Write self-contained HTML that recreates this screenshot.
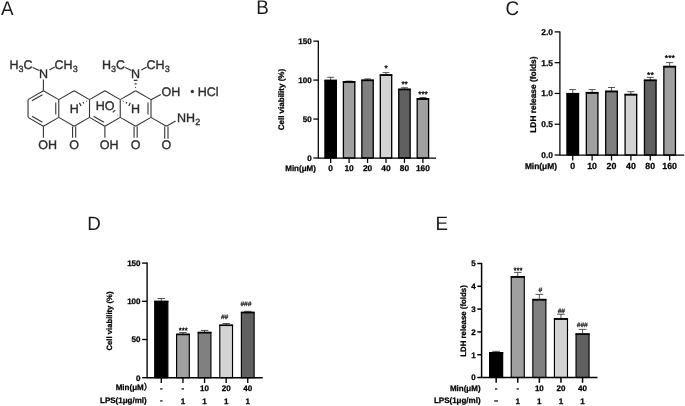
<!DOCTYPE html>
<html><head><meta charset="utf-8"><title>Figure</title>
<style>html,body{margin:0;padding:0;background:#fff;}svg{display:block;}</style>
</head><body>
<svg width="685" height="406" viewBox="0 0 685 406">
<rect width="685" height="406" fill="#fff"/>
<g id="chem" fill="none">
<line x1="43.40" y1="90.78" x2="58.77" y2="99.64" stroke="#333" stroke-width="1.1" stroke-linecap="butt"/>
<line x1="58.77" y1="99.64" x2="58.77" y2="117.36" stroke="#333" stroke-width="1.1" stroke-linecap="butt"/>
<line x1="58.77" y1="117.36" x2="43.40" y2="126.22" stroke="#333" stroke-width="1.1" stroke-linecap="butt"/>
<line x1="43.40" y1="126.22" x2="28.03" y2="117.36" stroke="#333" stroke-width="1.1" stroke-linecap="butt"/>
<line x1="28.03" y1="117.36" x2="28.03" y2="99.64" stroke="#333" stroke-width="1.1" stroke-linecap="butt"/>
<line x1="28.03" y1="99.64" x2="43.40" y2="90.78" stroke="#333" stroke-width="1.1" stroke-linecap="butt"/>
<line x1="74.14" y1="90.78" x2="89.51" y2="99.64" stroke="#333" stroke-width="1.1" stroke-linecap="butt"/>
<line x1="89.51" y1="99.64" x2="89.51" y2="117.36" stroke="#333" stroke-width="1.1" stroke-linecap="butt"/>
<line x1="89.51" y1="117.36" x2="74.14" y2="126.22" stroke="#333" stroke-width="1.1" stroke-linecap="butt"/>
<line x1="74.14" y1="126.22" x2="58.77" y2="117.36" stroke="#333" stroke-width="1.1" stroke-linecap="butt"/>
<line x1="58.77" y1="99.64" x2="74.14" y2="90.78" stroke="#333" stroke-width="1.1" stroke-linecap="butt"/>
<line x1="104.88" y1="90.78" x2="120.25" y2="99.64" stroke="#333" stroke-width="1.1" stroke-linecap="butt"/>
<line x1="120.25" y1="99.64" x2="120.25" y2="117.36" stroke="#333" stroke-width="1.1" stroke-linecap="butt"/>
<line x1="120.25" y1="117.36" x2="104.88" y2="126.22" stroke="#333" stroke-width="1.1" stroke-linecap="butt"/>
<line x1="104.88" y1="126.22" x2="89.51" y2="117.36" stroke="#333" stroke-width="1.1" stroke-linecap="butt"/>
<line x1="89.51" y1="99.64" x2="104.88" y2="90.78" stroke="#333" stroke-width="1.1" stroke-linecap="butt"/>
<line x1="135.62" y1="90.78" x2="150.99" y2="99.64" stroke="#333" stroke-width="1.1" stroke-linecap="butt"/>
<line x1="150.99" y1="99.64" x2="150.99" y2="117.36" stroke="#333" stroke-width="1.1" stroke-linecap="butt"/>
<line x1="150.99" y1="117.36" x2="135.62" y2="126.22" stroke="#333" stroke-width="1.1" stroke-linecap="butt"/>
<line x1="135.62" y1="126.22" x2="120.25" y2="117.36" stroke="#333" stroke-width="1.1" stroke-linecap="butt"/>
<line x1="120.25" y1="99.64" x2="135.62" y2="90.78" stroke="#333" stroke-width="1.1" stroke-linecap="butt"/>
<line x1="31.99" y1="100.82" x2="42.44" y2="94.80" stroke="#333" stroke-width="1.1" stroke-linecap="butt"/>
<line x1="31.99" y1="116.18" x2="42.44" y2="122.20" stroke="#333" stroke-width="1.1" stroke-linecap="butt"/>
<line x1="55.77" y1="102.48" x2="55.77" y2="114.52" stroke="#333" stroke-width="1.1" stroke-linecap="butt"/>
<line x1="93.47" y1="116.18" x2="103.92" y2="122.20" stroke="#333" stroke-width="1.1" stroke-linecap="butt"/>
<line x1="147.99" y1="102.48" x2="147.99" y2="114.52" stroke="#333" stroke-width="1.1" stroke-linecap="butt"/>
<line x1="43.40" y1="90.78" x2="43.40" y2="79.60" stroke="#333" stroke-width="1.1" stroke-linecap="butt"/>
<line x1="32.60" y1="67.50" x2="39.40" y2="70.40" stroke="#333" stroke-width="1.1" stroke-linecap="butt"/>
<line x1="49.30" y1="70.00" x2="54.90" y2="67.10" stroke="#333" stroke-width="1.1" stroke-linecap="butt"/>
<line x1="135.17" y1="87.48" x2="136.07" y2="87.48" stroke="#2e2e2e" stroke-width="1.2" stroke-linecap="butt"/>
<line x1="134.57" y1="83.88" x2="136.67" y2="83.88" stroke="#2e2e2e" stroke-width="1.2" stroke-linecap="butt"/>
<line x1="133.77" y1="80.33" x2="137.47" y2="80.33" stroke="#2e2e2e" stroke-width="1.2" stroke-linecap="butt"/>
<line x1="125.20" y1="67.50" x2="131.50" y2="70.40" stroke="#333" stroke-width="1.1" stroke-linecap="butt"/>
<line x1="141.30" y1="70.00" x2="146.90" y2="67.10" stroke="#333" stroke-width="1.1" stroke-linecap="butt"/>
<line x1="43.40" y1="126.22" x2="43.40" y2="137.70" stroke="#333" stroke-width="1.1" stroke-linecap="butt"/>
<line x1="72.59" y1="126.42" x2="72.59" y2="137.70" stroke="#333" stroke-width="1.1" stroke-linecap="butt"/>
<line x1="75.69" y1="126.42" x2="75.69" y2="137.70" stroke="#333" stroke-width="1.1" stroke-linecap="butt"/>
<line x1="104.88" y1="126.22" x2="104.88" y2="137.70" stroke="#333" stroke-width="1.1" stroke-linecap="butt"/>
<line x1="134.07" y1="126.42" x2="134.07" y2="137.70" stroke="#333" stroke-width="1.1" stroke-linecap="butt"/>
<line x1="137.17" y1="126.42" x2="137.17" y2="137.70" stroke="#333" stroke-width="1.1" stroke-linecap="butt"/>
<line x1="150.99" y1="99.64" x2="160.80" y2="94.40" stroke="#333" stroke-width="1.1" stroke-linecap="butt"/>
<line x1="150.99" y1="117.36" x2="166.36" y2="126.22" stroke="#333" stroke-width="1.1" stroke-linecap="butt"/>
<line x1="166.36" y1="126.22" x2="175.60" y2="121.00" stroke="#333" stroke-width="1.1" stroke-linecap="butt"/>
<line x1="164.71" y1="126.42" x2="164.71" y2="138.70" stroke="#333" stroke-width="1.1" stroke-linecap="butt"/>
<line x1="168.01" y1="126.42" x2="168.01" y2="138.70" stroke="#333" stroke-width="1.1" stroke-linecap="butt"/>
<line x1="86.74" y1="101.46" x2="86.42" y2="100.84" stroke="#2e2e2e" stroke-width="1.2" stroke-linecap="butt"/>
<line x1="83.79" y1="103.60" x2="82.97" y2="102.00" stroke="#2e2e2e" stroke-width="1.2" stroke-linecap="butt"/>
<line x1="81.02" y1="105.99" x2="79.42" y2="102.88" stroke="#2e2e2e" stroke-width="1.2" stroke-linecap="butt"/>
<line x1="123.35" y1="100.81" x2="123.04" y2="101.44" stroke="#2e2e2e" stroke-width="1.2" stroke-linecap="butt"/>
<line x1="126.82" y1="101.94" x2="126.01" y2="103.55" stroke="#2e2e2e" stroke-width="1.2" stroke-linecap="butt"/>
<line x1="130.37" y1="102.78" x2="128.80" y2="105.90" stroke="#2e2e2e" stroke-width="1.2" stroke-linecap="butt"/>
<line x1="117.50" y1="115.31" x2="118.12" y2="114.67" stroke="#888" stroke-width="1.2" stroke-linecap="butt"/>
<line x1="112.89" y1="112.45" x2="115.12" y2="110.15" stroke="#2e2e2e" stroke-width="1.2" stroke-linecap="butt"/>
</g>
<g id="chemtext" font-family="'Liberation Sans', sans-serif" stroke="#2b2b2b" stroke-width="0.35" text-rendering="geometricPrecision">
<text x="9.50" y="69.05" font-size="12.5" fill="#2b2b2b" text-anchor="start" >H<tspan font-size="9.0" dy="2.7">3</tspan><tspan dy="-2.7">C</tspan></text>
<text x="54.60" y="69.05" font-size="12.5" fill="#2b2b2b" text-anchor="start" >CH<tspan font-size="9.0" dy="2.7">3</tspan></text>
<text x="101.90" y="69.05" font-size="12.5" fill="#2b2b2b" text-anchor="start" >H<tspan font-size="9.0" dy="2.7">3</tspan><tspan dy="-2.7">C</tspan></text>
<text x="146.60" y="69.05" font-size="12.5" fill="#2b2b2b" text-anchor="start" >CH<tspan font-size="9.0" dy="2.7">3</tspan></text>
<text x="43.40" y="78.00" font-size="12.5" fill="#2b2b2b" text-anchor="middle" >N</text>
<text x="135.62" y="78.00" font-size="12.5" fill="#2b2b2b" text-anchor="middle" >N</text>
<text x="38.30" y="148.70" font-size="12.5" fill="#2b2b2b" text-anchor="start" >OH</text>
<text x="74.14" y="148.70" font-size="12.5" fill="#2b2b2b" text-anchor="middle" >O</text>
<text x="99.80" y="148.70" font-size="12.5" fill="#2b2b2b" text-anchor="start" >OH</text>
<text x="135.62" y="148.70" font-size="12.5" fill="#2b2b2b" text-anchor="middle" >O</text>
<text x="166.36" y="148.90" font-size="12.5" fill="#2b2b2b" text-anchor="middle" >O</text>
<text x="161.60" y="95.60" font-size="12.5" fill="#2b2b2b" text-anchor="start" >OH</text>
<text x="197.70" y="95.60" font-size="12.5" fill="#2b2b2b" text-anchor="start" >HCl</text>
<circle cx="192.3" cy="91.4" r="1.5" fill="#2b2b2b"/>
<text x="177.10" y="122.20" font-size="12.5" fill="#2b2b2b" text-anchor="start" >NH<tspan font-size="9.0" dy="2.7">2</tspan></text>
<text x="69.80" y="113.30" font-size="12.5" fill="#2b2b2b" text-anchor="start" >H</text>
<text x="131.10" y="113.30" font-size="12.5" fill="#2b2b2b" text-anchor="start" >H</text>
<text x="95.80" y="110.30" font-size="12.5" fill="#2b2b2b" text-anchor="start" >HO</text>
</g>
<g font-family="'Liberation Sans', sans-serif" font-size="18.8" fill="#1a1a1a" text-rendering="geometricPrecision">
<text transform="translate(1.0,14.6) scale(1,1.055)">A</text>
<text transform="translate(256.3,14.45) scale(1,1.055)">B</text>
<text transform="translate(505.5,14.6) scale(1,1.055)">C</text>
<text transform="translate(87.3,230.0) scale(1,1.03)">D</text>
<text transform="translate(435.5,230.35) scale(1,1.035)">E</text>
</g>
<g id="pB" font-family="'Liberation Sans', sans-serif" font-weight="bold" font-size="8.0" fill="#000" stroke="#000" stroke-width="0.25" text-rendering="geometricPrecision">
<path d="M330.65 80.10V77.30M327.22 77.30H334.08" stroke="#2a2a2a" stroke-width="0.8" fill="none"/>
<rect x="324.95" y="80.75" width="11.40" height="77.25" fill="#000" stroke="#000" stroke-width="1.3"/>
<line x1="324.30" y1="80.40" x2="337.00" y2="80.40" stroke="#000" stroke-width="1.6"/>
<path d="M349.10 81.50V81.11M345.67 81.11H352.53" stroke="#2a2a2a" stroke-width="0.8" fill="none"/>
<rect x="343.40" y="82.15" width="11.40" height="75.85" fill="#a0a0a0" stroke="#000" stroke-width="1.3"/>
<line x1="342.75" y1="81.80" x2="355.45" y2="81.80" stroke="#000" stroke-width="1.6"/>
<path d="M367.55 79.87V78.93M364.12 78.93H370.98" stroke="#2a2a2a" stroke-width="0.8" fill="none"/>
<rect x="361.85" y="80.52" width="11.40" height="77.48" fill="#808080" stroke="#000" stroke-width="1.3"/>
<line x1="361.20" y1="80.17" x2="373.90" y2="80.17" stroke="#000" stroke-width="1.6"/>
<path d="M386.00 74.65V72.62M382.57 72.62H389.43" stroke="#2a2a2a" stroke-width="0.8" fill="none"/>
<rect x="380.30" y="75.30" width="11.40" height="82.70" fill="#d3d3d3" stroke="#000" stroke-width="1.3"/>
<line x1="379.65" y1="74.95" x2="392.35" y2="74.95" stroke="#000" stroke-width="1.6"/>
<text x="386.10" y="71.32" text-anchor="middle" font-size="8.24" font-weight="normal" stroke="#000" stroke-width="0.3" fill="#000">*</text>
<path d="M404.45 88.98V87.73M401.02 87.73H407.88" stroke="#2a2a2a" stroke-width="0.8" fill="none"/>
<rect x="398.75" y="89.63" width="11.40" height="68.37" fill="#606060" stroke="#000" stroke-width="1.3"/>
<line x1="398.10" y1="89.28" x2="410.80" y2="89.28" stroke="#000" stroke-width="1.6"/>
<text x="404.60" y="87.22" text-anchor="middle" font-size="8.24" font-weight="normal" stroke="#000" stroke-width="0.3" fill="#000">**</text>
<path d="M422.90 98.56V97.47M419.47 97.47H426.33" stroke="#2a2a2a" stroke-width="0.8" fill="none"/>
<rect x="417.20" y="99.21" width="11.40" height="58.79" fill="#a0a0a0" stroke="#000" stroke-width="1.3"/>
<line x1="416.55" y1="98.86" x2="429.25" y2="98.86" stroke="#000" stroke-width="1.6"/>
<text x="423.00" y="97.12" text-anchor="middle" font-size="8.24" font-weight="normal" stroke="#000" stroke-width="0.3" fill="#000">***</text>
<path d="M318.30 40.65V158.50M317.80 158.00H436.00" stroke="#000" stroke-width="1.25" fill="none"/>
<line x1="313.30" y1="158.00" x2="318.30" y2="158.00" stroke="#000" stroke-width="1.25"/>
<text x="311.70" y="160.88" text-anchor="end">0</text>
<line x1="313.30" y1="119.05" x2="318.30" y2="119.05" stroke="#000" stroke-width="1.25"/>
<text x="311.70" y="121.93" text-anchor="end">50</text>
<line x1="313.30" y1="80.10" x2="318.30" y2="80.10" stroke="#000" stroke-width="1.25"/>
<text x="311.70" y="82.98" text-anchor="end">100</text>
<line x1="313.30" y1="41.15" x2="318.30" y2="41.15" stroke="#000" stroke-width="1.25"/>
<text x="311.70" y="44.03" text-anchor="end">150</text>
<line x1="330.65" y1="158.00" x2="330.65" y2="162.90" stroke="#000" stroke-width="1.25"/>
<text x="330.65" y="171.40" text-anchor="middle" font-size="8.35">0</text>
<line x1="349.10" y1="158.00" x2="349.10" y2="162.90" stroke="#000" stroke-width="1.25"/>
<text x="349.10" y="171.40" text-anchor="middle" font-size="8.35">10</text>
<line x1="367.55" y1="158.00" x2="367.55" y2="162.90" stroke="#000" stroke-width="1.25"/>
<text x="367.55" y="171.40" text-anchor="middle" font-size="8.35">20</text>
<line x1="386.00" y1="158.00" x2="386.00" y2="162.90" stroke="#000" stroke-width="1.25"/>
<text x="386.00" y="171.40" text-anchor="middle" font-size="8.35">40</text>
<line x1="404.45" y1="158.00" x2="404.45" y2="162.90" stroke="#000" stroke-width="1.25"/>
<text x="404.45" y="171.40" text-anchor="middle" font-size="8.35">80</text>
<line x1="422.90" y1="158.00" x2="422.90" y2="162.90" stroke="#000" stroke-width="1.25"/>
<text x="422.90" y="171.40" text-anchor="middle" font-size="8.35">160</text>
<text x="315.90" y="171.20" text-anchor="end">Min(μM)</text>
<text transform="translate(283.50,99.60) rotate(-90)" text-anchor="middle">Cell viability (%)</text>
</g>
<g id="pC" font-family="'Liberation Sans', sans-serif" font-weight="bold" font-size="8.4" fill="#000" stroke="#000" stroke-width="0.25" text-rendering="geometricPrecision">
<path d="M572.75 93.40V89.60M569.27 89.60H576.23" stroke="#2a2a2a" stroke-width="0.8" fill="none"/>
<rect x="566.95" y="94.05" width="11.60" height="60.95" fill="#000" stroke="#000" stroke-width="1.3"/>
<line x1="566.30" y1="93.70" x2="579.20" y2="93.70" stroke="#000" stroke-width="1.6"/>
<path d="M592.13 92.40V89.60M588.65 89.60H595.61" stroke="#2a2a2a" stroke-width="0.8" fill="none"/>
<rect x="586.33" y="93.05" width="11.60" height="61.95" fill="#a0a0a0" stroke="#000" stroke-width="1.3"/>
<line x1="585.68" y1="92.70" x2="598.58" y2="92.70" stroke="#000" stroke-width="1.6"/>
<path d="M611.51 91.00V87.50M608.03 87.50H614.99" stroke="#2a2a2a" stroke-width="0.8" fill="none"/>
<rect x="605.71" y="91.65" width="11.60" height="63.35" fill="#808080" stroke="#000" stroke-width="1.3"/>
<line x1="605.06" y1="91.30" x2="617.96" y2="91.30" stroke="#000" stroke-width="1.6"/>
<path d="M630.89 94.20V91.70M627.41 91.70H634.37" stroke="#2a2a2a" stroke-width="0.8" fill="none"/>
<rect x="625.09" y="94.85" width="11.60" height="60.15" fill="#d3d3d3" stroke="#000" stroke-width="1.3"/>
<line x1="624.44" y1="94.50" x2="637.34" y2="94.50" stroke="#000" stroke-width="1.6"/>
<path d="M650.27 79.90V77.40M646.79 77.40H653.75" stroke="#2a2a2a" stroke-width="0.8" fill="none"/>
<rect x="644.47" y="80.55" width="11.60" height="74.45" fill="#606060" stroke="#000" stroke-width="1.3"/>
<line x1="643.82" y1="80.20" x2="656.72" y2="80.20" stroke="#000" stroke-width="1.6"/>
<text x="650.40" y="77.63" text-anchor="middle" font-size="8.65" font-weight="normal" stroke="#000" stroke-width="0.3" fill="#000">**</text>
<path d="M669.65 66.20V62.60M666.17 62.60H673.13" stroke="#2a2a2a" stroke-width="0.8" fill="none"/>
<rect x="663.85" y="66.85" width="11.60" height="88.15" fill="#a0a0a0" stroke="#000" stroke-width="1.3"/>
<line x1="663.20" y1="66.50" x2="676.10" y2="66.50" stroke="#000" stroke-width="1.6"/>
<text x="669.90" y="61.13" text-anchor="middle" font-size="8.65" font-weight="normal" stroke="#000" stroke-width="0.3" fill="#000">***</text>
<path d="M559.90 31.40V155.50M559.40 155.00H684.20" stroke="#000" stroke-width="1.25" fill="none"/>
<line x1="554.60" y1="155.00" x2="559.90" y2="155.00" stroke="#000" stroke-width="1.25"/>
<text x="553.00" y="158.02" text-anchor="end">0.0</text>
<line x1="554.60" y1="124.22" x2="559.90" y2="124.22" stroke="#000" stroke-width="1.25"/>
<text x="553.00" y="127.25" text-anchor="end">0.5</text>
<line x1="554.60" y1="93.45" x2="559.90" y2="93.45" stroke="#000" stroke-width="1.25"/>
<text x="553.00" y="96.47" text-anchor="end">1.0</text>
<line x1="554.60" y1="62.68" x2="559.90" y2="62.68" stroke="#000" stroke-width="1.25"/>
<text x="553.00" y="65.70" text-anchor="end">1.5</text>
<line x1="554.60" y1="31.90" x2="559.90" y2="31.90" stroke="#000" stroke-width="1.25"/>
<text x="553.00" y="34.92" text-anchor="end">2.0</text>
<line x1="572.75" y1="155.00" x2="572.75" y2="160.50" stroke="#000" stroke-width="1.25"/>
<text x="572.75" y="169.30" text-anchor="middle" font-size="8.8">0</text>
<line x1="592.13" y1="155.00" x2="592.13" y2="160.50" stroke="#000" stroke-width="1.25"/>
<text x="592.13" y="169.30" text-anchor="middle" font-size="8.8">10</text>
<line x1="611.51" y1="155.00" x2="611.51" y2="160.50" stroke="#000" stroke-width="1.25"/>
<text x="611.51" y="169.30" text-anchor="middle" font-size="8.8">20</text>
<line x1="630.89" y1="155.00" x2="630.89" y2="160.50" stroke="#000" stroke-width="1.25"/>
<text x="630.89" y="169.30" text-anchor="middle" font-size="8.8">40</text>
<line x1="650.27" y1="155.00" x2="650.27" y2="160.50" stroke="#000" stroke-width="1.25"/>
<text x="650.27" y="169.30" text-anchor="middle" font-size="8.8">80</text>
<line x1="669.65" y1="155.00" x2="669.65" y2="160.50" stroke="#000" stroke-width="1.25"/>
<text x="669.65" y="169.30" text-anchor="middle" font-size="8.8">160</text>
<text x="557.00" y="169.10" text-anchor="end">Min(μM)</text>
<text transform="translate(535.80,94.60) rotate(-90)" text-anchor="middle">LDH release (folds)</text>
</g>
<g id="pD" font-family="'Liberation Sans', sans-serif" font-weight="bold" font-size="8.0" fill="#000" stroke="#000" stroke-width="0.25" text-rendering="geometricPrecision">
<path d="M161.30 301.10V298.50M157.44 298.50H165.16" stroke="#2a2a2a" stroke-width="0.8" fill="none"/>
<rect x="154.72" y="301.68" width="13.15" height="76.02" fill="#000" stroke="#000" stroke-width="1.15"/>
<line x1="154.15" y1="301.40" x2="168.45" y2="301.40" stroke="#000" stroke-width="1.6"/>
<path d="M182.95 334.00V332.50M179.20 332.50H186.70" stroke="#2a2a2a" stroke-width="0.8" fill="none"/>
<rect x="176.57" y="334.57" width="12.75" height="43.12" fill="#a0a0a0" stroke="#000" stroke-width="1.15"/>
<line x1="176.00" y1="334.30" x2="189.90" y2="334.30" stroke="#000" stroke-width="1.6"/>
<text x="183.20" y="332.54" text-anchor="middle" font-size="7.68" font-weight="normal" stroke="#000" stroke-width="0.3" fill="#000">***</text>
<path d="M204.55 332.20V330.40M200.80 330.40H208.30" stroke="#2a2a2a" stroke-width="0.8" fill="none"/>
<rect x="198.18" y="332.77" width="12.75" height="44.92" fill="#808080" stroke="#000" stroke-width="1.15"/>
<line x1="197.60" y1="332.50" x2="211.50" y2="332.50" stroke="#000" stroke-width="1.6"/>
<path d="M226.15 324.90V323.50M222.40 323.50H229.90" stroke="#2a2a2a" stroke-width="0.8" fill="none"/>
<rect x="219.78" y="325.47" width="12.75" height="52.23" fill="#d3d3d3" stroke="#000" stroke-width="1.15"/>
<line x1="219.20" y1="325.20" x2="233.10" y2="325.20" stroke="#000" stroke-width="1.6"/>
<text x="224.60" y="319.30" text-anchor="middle" font-size="6.40" font-weight="normal" font-style="italic" fill="#333" stroke="#333" stroke-width="0.3">##</text>
<path d="M247.75 312.10V311.30M244.00 311.30H251.50" stroke="#2a2a2a" stroke-width="0.8" fill="none"/>
<rect x="241.38" y="312.68" width="12.75" height="65.02" fill="#606060" stroke="#000" stroke-width="1.15"/>
<line x1="240.80" y1="312.40" x2="254.70" y2="312.40" stroke="#000" stroke-width="1.6"/>
<text x="245.90" y="306.30" text-anchor="middle" font-size="6.40" font-weight="normal" font-style="italic" fill="#333" stroke="#333" stroke-width="0.3">###</text>
<path d="M147.10 262.60V378.20M146.60 377.70H262.80" stroke="#000" stroke-width="1.35" fill="none"/>
<line x1="142.10" y1="377.70" x2="147.10" y2="377.70" stroke="#000" stroke-width="1.35"/>
<text x="140.50" y="380.58" text-anchor="end">0</text>
<line x1="142.10" y1="339.50" x2="147.10" y2="339.50" stroke="#000" stroke-width="1.35"/>
<text x="140.50" y="342.38" text-anchor="end">50</text>
<line x1="142.10" y1="301.30" x2="147.10" y2="301.30" stroke="#000" stroke-width="1.35"/>
<text x="140.50" y="304.18" text-anchor="end">100</text>
<line x1="142.10" y1="263.10" x2="147.10" y2="263.10" stroke="#000" stroke-width="1.35"/>
<text x="140.50" y="265.98" text-anchor="end">150</text>
<line x1="161.30" y1="377.70" x2="161.30" y2="383.00" stroke="#000" stroke-width="1.35"/>
<text x="161.30" y="391.00" text-anchor="middle">-</text>
<text x="161.30" y="402.90" text-anchor="middle">-</text>
<line x1="182.95" y1="377.70" x2="182.95" y2="383.00" stroke="#000" stroke-width="1.35"/>
<text x="182.95" y="391.00" text-anchor="middle">-</text>
<text x="182.95" y="404.00" text-anchor="middle">1</text>
<line x1="204.55" y1="377.70" x2="204.55" y2="383.00" stroke="#000" stroke-width="1.35"/>
<text x="204.55" y="391.00" text-anchor="middle">10</text>
<text x="204.55" y="404.00" text-anchor="middle">1</text>
<line x1="226.15" y1="377.70" x2="226.15" y2="383.00" stroke="#000" stroke-width="1.35"/>
<text x="226.15" y="391.00" text-anchor="middle">20</text>
<text x="226.15" y="404.00" text-anchor="middle">1</text>
<line x1="247.75" y1="377.70" x2="247.75" y2="383.00" stroke="#000" stroke-width="1.35"/>
<text x="247.75" y="391.00" text-anchor="middle">40</text>
<text x="247.75" y="404.00" text-anchor="middle">1</text>
<text x="152.30" y="390.20" text-anchor="end">Min(μM<tspan font-weight="normal" stroke-width="0.4" font-size="8.6" font-family="'Liberation Sans', 'Noto Sans CJK SC', sans-serif">）</tspan></text>
<text x="146.70" y="403.00" text-anchor="end">LPS(1μg/ml)</text>
<text transform="translate(112.30,321.00) rotate(-90)" text-anchor="middle"><tspan font-size="7.7">Cell viability (%)</tspan></text>
</g>
<g id="pE" font-family="'Liberation Sans', sans-serif" font-weight="bold" font-size="8.0" fill="#000" stroke="#000" stroke-width="0.25" text-rendering="geometricPrecision">
<path d="M496.15 352.47V351.33M492.32 351.33H499.98" stroke="#2a2a2a" stroke-width="0.8" fill="none"/>
<rect x="489.62" y="353.04" width="13.05" height="24.46" fill="#000" stroke="#000" stroke-width="1.15"/>
<line x1="489.05" y1="352.77" x2="503.25" y2="352.77" stroke="#000" stroke-width="1.6"/>
<path d="M517.75 276.50V272.39M513.92 272.39H521.58" stroke="#2a2a2a" stroke-width="0.8" fill="none"/>
<rect x="511.23" y="277.07" width="13.05" height="100.43" fill="#a0a0a0" stroke="#000" stroke-width="1.15"/>
<line x1="510.65" y1="276.80" x2="524.85" y2="276.80" stroke="#000" stroke-width="1.6"/>
<text x="517.90" y="273.04" text-anchor="middle" font-size="7.68" font-weight="normal" stroke="#000" stroke-width="0.3" fill="#000">***</text>
<path d="M539.35 299.30V294.39M535.52 294.39H543.18" stroke="#2a2a2a" stroke-width="0.8" fill="none"/>
<rect x="532.83" y="299.87" width="13.05" height="77.63" fill="#808080" stroke="#000" stroke-width="1.15"/>
<line x1="532.25" y1="299.60" x2="546.45" y2="299.60" stroke="#000" stroke-width="1.6"/>
<text x="540.30" y="292.30" text-anchor="middle" font-size="6.40" font-weight="normal" font-style="italic" fill="#333" stroke="#333" stroke-width="0.3">#</text>
<path d="M560.95 318.56V314.23M557.12 314.23H564.78" stroke="#2a2a2a" stroke-width="0.8" fill="none"/>
<rect x="554.43" y="319.14" width="13.05" height="58.36" fill="#d3d3d3" stroke="#000" stroke-width="1.15"/>
<line x1="553.85" y1="318.86" x2="568.05" y2="318.86" stroke="#000" stroke-width="1.6"/>
<text x="561.30" y="312.60" text-anchor="middle" font-size="6.40" font-weight="normal" font-style="italic" fill="#333" stroke="#333" stroke-width="0.3">##</text>
<path d="M582.55 333.72V329.39M578.72 329.39H586.38" stroke="#2a2a2a" stroke-width="0.8" fill="none"/>
<rect x="576.03" y="334.30" width="13.05" height="43.20" fill="#606060" stroke="#000" stroke-width="1.15"/>
<line x1="575.45" y1="334.02" x2="589.65" y2="334.02" stroke="#000" stroke-width="1.6"/>
<text x="582.20" y="327.20" text-anchor="middle" font-size="6.40" font-weight="normal" font-style="italic" fill="#333" stroke="#333" stroke-width="0.3">###</text>
<path d="M481.60 263.00V378.00M481.10 377.50H597.50" stroke="#000" stroke-width="1.5" fill="none"/>
<line x1="477.30" y1="377.50" x2="481.60" y2="377.50" stroke="#000" stroke-width="1.5"/>
<text x="475.70" y="380.38" text-anchor="end">0</text>
<line x1="477.30" y1="354.70" x2="481.60" y2="354.70" stroke="#000" stroke-width="1.5"/>
<text x="475.70" y="357.58" text-anchor="end">1</text>
<line x1="477.30" y1="331.90" x2="481.60" y2="331.90" stroke="#000" stroke-width="1.5"/>
<text x="475.70" y="334.78" text-anchor="end">2</text>
<line x1="477.30" y1="309.10" x2="481.60" y2="309.10" stroke="#000" stroke-width="1.5"/>
<text x="475.70" y="311.98" text-anchor="end">3</text>
<line x1="477.30" y1="286.30" x2="481.60" y2="286.30" stroke="#000" stroke-width="1.5"/>
<text x="475.70" y="289.18" text-anchor="end">4</text>
<line x1="477.30" y1="263.50" x2="481.60" y2="263.50" stroke="#000" stroke-width="1.5"/>
<text x="475.70" y="266.38" text-anchor="end">5</text>
<line x1="496.15" y1="377.50" x2="496.15" y2="382.80" stroke="#000" stroke-width="1.5"/>
<text x="496.15" y="391.00" text-anchor="middle">-</text>
<text transform="translate(496.15,402.90) scale(1.6,1)" text-anchor="middle">-</text>
<line x1="517.75" y1="377.50" x2="517.75" y2="382.80" stroke="#000" stroke-width="1.5"/>
<text x="517.75" y="391.00" text-anchor="middle">-</text>
<text x="517.75" y="404.00" text-anchor="middle">1</text>
<line x1="539.35" y1="377.50" x2="539.35" y2="382.80" stroke="#000" stroke-width="1.5"/>
<text x="539.35" y="391.00" text-anchor="middle">10</text>
<text x="539.35" y="404.00" text-anchor="middle">1</text>
<line x1="560.95" y1="377.50" x2="560.95" y2="382.80" stroke="#000" stroke-width="1.5"/>
<text x="560.95" y="391.00" text-anchor="middle">20</text>
<text x="560.95" y="404.00" text-anchor="middle">1</text>
<line x1="582.55" y1="377.50" x2="582.55" y2="382.80" stroke="#000" stroke-width="1.5"/>
<text x="582.55" y="391.00" text-anchor="middle">40</text>
<text x="582.55" y="404.00" text-anchor="middle">1</text>
<text x="480.60" y="390.60" text-anchor="end">Min(μM)</text>
<text x="480.60" y="403.10" text-anchor="end">LPS(1μg/ml)</text>
<text transform="translate(466.30,321.00) rotate(-90)" text-anchor="middle"><tspan font-size="7.85">LDH release (folds)</tspan></text>
</g>
</svg>
</body></html>
